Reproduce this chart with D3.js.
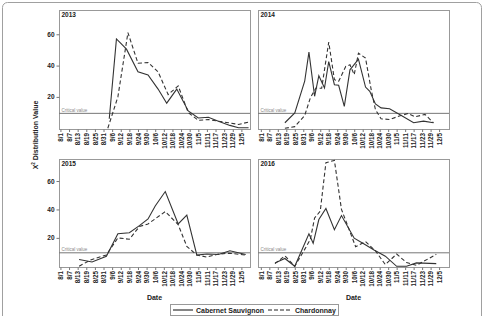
<!DOCTYPE html>
<html>
<head>
<meta charset="utf-8">
<script src="https://cdn.jsdelivr.net/npm/d3@7"></script>
<style>
  body { margin: 0; background: #fff; }
  svg { display: block; font-family: "Liberation Sans", Arial, sans-serif; }
</style>
</head>
<body>
<div id="chart"></div>
<script>
  var seriesNames = ["Cabernet Sauvignon", "Chardonnay"];
  var tickLabels = ["8/1", "8/7", "8/13", "8/19", "8/25", "8/31", "9/6", "9/12", "9/18", "9/24", "9/30",
    "10/6", "10/12", "10/18", "10/24", "10/30", "11/5", "11/11", "11/17", "11/23", "11/29", "12/5"];
  var yTicks = [20, 40, 60];
  var criticalValue = 9.49;

  var cabDates2013 = ["9/4", "9/9", "9/16", "9/24", "10/1", "10/8", "10/14", "10/21", "10/29", "11/5", "11/12", "11/19", "11/27", "12/3", "12/10"];
  var cabValues2013 = [6, 57, 50.5, 36, 34, 25, 16, 25, 11, 6.5, 7, 4.5, 1.8, 0.3, 0.3];
  var chardDates2013 = ["9/3", "9/10", "9/17", "9/24", "10/1", "10/8", "10/15", "10/22", "10/29", "11/5", "11/12", "11/19", "11/26", "12/3", "12/10"];
  var chardValues2013 = [0, 20, 61, 41.5, 42, 36, 21.5, 27, 10, 5, 5.5, 4.5, 3.5, 2.4, 3.9];

  var cabDates2014 = ["8/18", "8/25", "9/1", "9/4", "9/8", "9/11", "9/15", "9/18", "9/22", "9/25", "9/29", "10/3",
    "10/9", "10/14", "10/17", "10/21", "10/25", "10/31", "11/8", "11/17", "11/24", "12/1"];
  var cabValues2014 = [3.5, 9.8, 30, 48.6, 20.4, 33.5, 25.7, 42.6, 27.8, 27.4, 14, 37.3,
    44.1, 26.3, 23.6, 15.5, 13, 12.4, 8.3, 3.5, 4.5, 3.5];
  var chardDates2014 = ["8/18", "8/25", "9/1", "9/5", "9/9", "9/13", "9/18", "9/22", "9/25", "9/30", "10/3", "10/6",
    "10/9", "10/14", "10/18", "10/21", "10/25", "10/31", "11/8", "11/13", "11/18", "11/25", "12/1"];
  var chardValues2014 = [0, 1, 8.1, 19.4, 25.7, 25.5, 55, 31, 30, 39.4, 40.5, 34.2,
    47.9, 44.8, 24.6, 11.9, 6, 5.6, 8.1, 9.4, 7.3, 8.8, 3.5];

  var cabDates2015 = ["8/14", "8/23", "9/2", "9/10", "9/18", "9/25", "10/1", "10/6", "10/13", "10/22", "10/28", "11/4", "11/11", "11/19", "11/27", "12/8"];
  var cabValues2015 = [4.8, 3, 7, 22.9, 23.6, 28.6, 33.3, 42.4, 52.6, 29.8, 36, 7.9, 8.6, 8.3, 10.9, 8.3];
  var chardDates2015 = ["8/14", "8/22", "9/2", "9/10", "9/18", "9/25", "10/1", "10/13", "10/22", "10/28", "11/4", "11/11", "11/19", "11/27", "12/8"];
  var chardValues2015 = [0, 4.5, 8, 20, 19, 28, 29.8, 38.5, 29.3, 14, 7.9, 6.5, 8.6, 9.2, 7.9];

  var cabDates2016 = ["8/11", "8/18", "8/25", "9/4", "9/7", "9/11", "9/16", "9/22", "9/27", "10/6", "10/13", "10/20", "10/28", "11/5", "11/12", "11/19", "12/3"];
  var cabValues2016 = [2.4, 5.5, 0, 22.9, 16.2, 32.9, 40.7, 25.7, 35.7, 19.8, 15.7, 11.4, 7.1, 0, 0, 2.4, 1.9];
  var chardDates2016 = ["8/11", "8/18", "8/25", "9/1", "9/5", "9/8", "9/12", "9/16", "9/22", "9/27", "10/2", "10/7",
    "10/14", "10/21", "10/28", "11/5", "11/12", "11/19", "12/3"];
  var chardValues2016 = [1.9, 7.4, 0, 11.9, 19, 34, 38.8, 72.9, 74.5, 40, 26.9, 13.8,
    17.4, 10.9, 1.2, 8.6, 2.6, 0.7, 8.4];

  var parse = d3.timeParse("%m/%d");
  var fmt = d3.timeFormat("%-m/%-d");

  function pairs(dates, values) {
    return dates.map(function(d, i) { return [parse(d), values[i]]; });
  }

  var panels = [
    { year: "2013", x: 59, y: 10, w: 191, h: 119, from: "7/31", to: "12/11", left: true, bottom: false,
      cab: pairs(cabDates2013, cabValues2013), chard: pairs(chardDates2013, chardValues2013) },
    { year: "2014", x: 258, y: 10, w: 191, h: 119, from: "7/30", to: "12/12", left: false, bottom: false,
      cab: pairs(cabDates2014, cabValues2014), chard: pairs(chardDates2014, chardValues2014) },
    { year: "2015", x: 59, y: 159, w: 191, h: 108, from: "7/31", to: "12/11", left: true, bottom: true,
      cab: pairs(cabDates2015, cabValues2015), chard: pairs(chardDates2015, chardValues2015) },
    { year: "2016", x: 258, y: 159, w: 191, h: 108, from: "7/30", to: "12/12", left: false, bottom: true,
      cab: pairs(cabDates2016, cabValues2016), chard: pairs(chardDates2016, chardValues2016) }
  ];

  var font = '"Liberation Sans", Arial, sans-serif';
  var lineColor = "#333";

  var svg = d3.select("#chart").append("svg")
    .attr("width", 485)
    .attr("height", 316);

  // outer figure frame, bottom runs off the picture
  svg.append("rect")
    .attr("x", 2.5).attr("y", 2.5)
    .attr("width", 479).attr("height", 340)
    .attr("rx", 5)
    .attr("fill", "#fff")
    .attr("stroke", "#a0a0a0");

  var tickDates = tickLabels.map(parse);

  panels.forEach(function(p) {
    var x = d3.scaleTime()
      .domain([parse(p.from), parse(p.to)])
      .range([p.x, p.x + p.w]);
    var y = d3.scaleLinear()
      .domain([-0.5, 75.5])
      .range([p.y + p.h, p.y]);

    var g = svg.append("g").attr("class", "panel");

    g.append("rect")
      .attr("x", p.x + 0.5).attr("y", p.y + 0.5)
      .attr("width", p.w).attr("height", p.h)
      .attr("fill", "none")
      .attr("stroke", "#999");

    /* critical value reference */
    g.append("line")
      .attr("x1", p.x).attr("x2", p.x + p.w)
      .attr("y1", y(criticalValue)).attr("y2", y(criticalValue))
      .attr("stroke", "#777")
      .attr("stroke-width", 1);

    g.append("text")
      .attr("x", p.x + 2.5)
      .attr("y", y(criticalValue) - 1.8)
      .attr("font-size", 4.5)
      .attr("fill", "#888")
      .text("Critical value");

    var line = d3.line()
      .x(function(d) { return x(d[0]); })
      .y(function(d) { return y(d[1]); });

    g.append("path")
      .datum(p.chard)
      .attr("d", line)
      .attr("fill", "none")
      .attr("stroke", lineColor)
      .attr("stroke-width", 1.1)
      .attr("stroke-dasharray", "4,2.5");

    g.append("path")
      .datum(p.cab)
      .attr("d", line)
      .attr("fill", "none")
      .attr("stroke", lineColor)
      .attr("stroke-width", 1.1);

    g.append("text")
      .attr("x", p.x + 2.5)
      .attr("y", p.y + 6.8)
      .attr("font-size", 6.5)
      .attr("font-weight", "bold")
      .attr("fill", "#222")
      .text(p.year);

    var xAxis = g.append("g")
      .attr("transform", "translate(0," + (p.y + p.h + 0.5) + ")")
      .call(d3.axisBottom(x).tickValues(tickDates).tickFormat(fmt).tickSize(2.5));
    xAxis.select(".domain").remove();
    xAxis.selectAll("line").attr("stroke", "#777");
    xAxis.attr("font-family", font);
    xAxis.selectAll("text")
      .attr("y", 0)
      .attr("x", -3.5)
      .attr("dy", "0.35em")
      .attr("transform", "rotate(-90)")
      .attr("font-size", 6.3)
      .attr("font-weight", "bold")
      .attr("fill", "#222")
      .style("text-anchor", "end");

    if (p.left) {
      var yAxis = g.append("g")
        .attr("transform", "translate(" + (p.x + 0.5) + ",0)")
        .call(d3.axisLeft(y).tickValues(yTicks).tickSize(3).tickPadding(2));
      yAxis.select(".domain").remove();
      yAxis.selectAll("line").attr("stroke", "#777");
      yAxis.attr("font-family", font);
      yAxis.selectAll("text")
        .attr("font-size", 6.5)
        .attr("font-weight", "bold")
        .attr("fill", "#222");
    }

    if (p.bottom) {
      g.append("text")
        .attr("x", p.x + p.w / 2)
        .attr("y", 300)
        .attr("text-anchor", "middle")
        .attr("font-size", 7)
        .attr("font-weight", "bold")
        .attr("fill", "#222")
        .text("Date");
    }
  });

  // y axis title
  var yTitle = svg.append("text")
    .attr("transform", "translate(38,135) rotate(-90)")
    .attr("text-anchor", "middle")
    .attr("font-size", 7)
    .attr("font-weight", "bold")
    .attr("fill", "#222");
  yTitle.append("tspan").text("X");
  yTitle.append("tspan").attr("dy", -2.8).attr("font-size", 4.5).text("2");
  yTitle.append("tspan").attr("dy", 2.8).text(" Distribution Value");

  /* ------- LEGEND ------- */
  var legend = svg.append("g").attr("class", "legend");
  legend.append("rect")
    .attr("x", 170.5).attr("y", 304.5)
    .attr("width", 168).attr("height", 11)
    .attr("fill", "#fff")
    .attr("stroke", "#999");

  var legendItems = [
    { name: seriesNames[0], x1: 173, x2: 193, tx: 196, dash: null },
    { name: seriesNames[1], x1: 268, x2: 292, tx: 295, dash: "4,2" }
  ];
  legendItems.forEach(function(d) {
    legend.append("line")
      .attr("x1", d.x1).attr("x2", d.x2)
      .attr("y1", 310).attr("y2", 310)
      .attr("stroke", "#222")
      .attr("stroke-width", 1.1)
      .attr("stroke-dasharray", d.dash);
    legend.append("text")
      .attr("x", d.tx)
      .attr("y", 312.5)
      .attr("font-size", 7)
      .attr("font-weight", "bold")
      .attr("fill", "#222")
      .text(d.name);
  });
</script>
</body>
</html>
